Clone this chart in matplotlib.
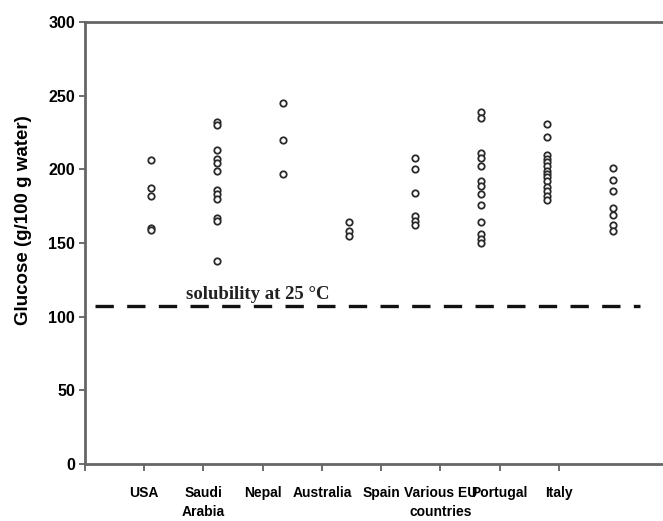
import numpy as np
import matplotlib
matplotlib.use("Agg")
import matplotlib.pyplot as plt

# Glucose per country (g/100 g water)
countries = ["USA", "Saudi\nArabia", "Nepal", "Australia", "Spain",
             "Various EU\ncountries", "Portugal", "Italy"]
usa = [206, 187, 182, 160, 159]
saudi = [232, 230, 213, 207, 204, 199, 186, 183, 180, 167, 165, 138]
nepal = [245, 220, 197]
australia = [164, 158, 155]
spain = [208, 200, 184, 168, 165, 162]
eu = [239, 235, 211, 208, 202, 192, 189, 183, 176, 164, 156, 153, 150]
portugal = [231, 222, 210, 207, 205, 202, 199, 197, 195, 192, 188, 185, 182, 179]
italy = [201, 193, 185, 174, 169, 162, 158]
solubility = 107

groups = [usa, saudi, nepal, australia, spain, eu, portugal, italy]

fig = plt.figure(figsize=(6.63, 5.21), dpi=100)
ax = fig.add_axes([0.128, 0.1094, 0.882, 0.8484])

for i, vals in enumerate(groups):
    ax.plot(np.full(len(vals), i + 1), vals, 'o', ms=4.6, mfc='white',
            mec='#2a2a2a', mew=1.3, linestyle='none')

ax.plot([0.15, 8.4], [solubility, solubility], color='#111111', lw=2.4,
        dashes=(5.5, 4))
ax.text(1.53, 112, "solubility at 25 \u00b0C", family='Liberation Serif',
        fontweight='bold', fontsize=13.5, color='#222222')

ax.set_xlim(0, 8.85)
ax.set_ylim(0, 300)

# the category ticks are spaced a bit tighter than the points in the original
ax.set_xticks([k * 0.897 for k in range(9)])
ax.set_xticklabels([""] + countries, family='Liberation Sans',
                   fontweight='bold', fontsize=10, linespacing=1.45)
ax.set_yticks([0, 50, 100, 150, 200, 250, 300])
ax.set_yticklabels(["0", "50", "100", "150", "200", "250", "300"],
                   family='Liberation Sans', fontweight='bold', fontsize=11.5)
ax.tick_params(axis='x', direction='out', length=5, width=1.2,
               color='#555555', pad=11)
ax.tick_params(axis='y', direction='out', length=4, width=1.2,
               color='#555555', pad=3)

ax.set_ylabel("Glucose (g/100 g water)", family='Liberation Sans',
              fontweight='bold', fontsize=13.5)
ax.yaxis.set_label_coords(-0.09, 0.552)

for s in ['left', 'bottom', 'top']:
    ax.spines[s].set_color('#666666')
    ax.spines[s].set_linewidth(2)
ax.spines['right'].set_visible(False)

fig.savefig("out.png", dpi=100)
